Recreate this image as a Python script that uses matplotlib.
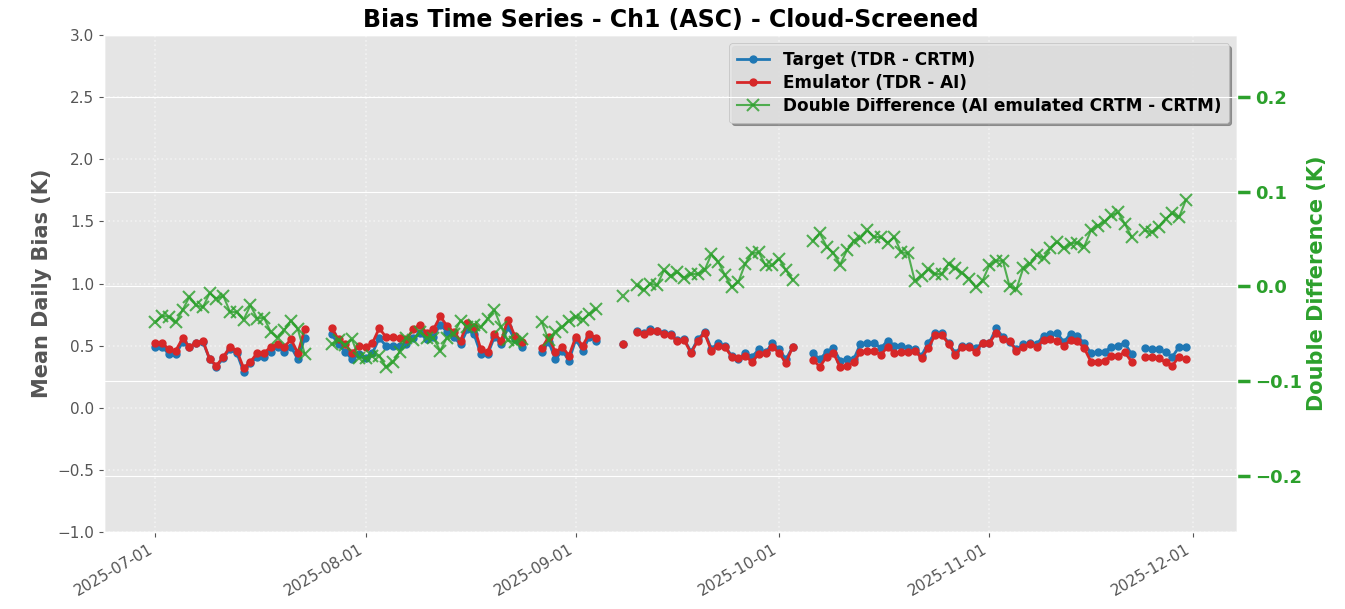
"""Bias time series for Ch1 (ASC), cloud-screened: target vs emulator bias + double difference."""
import numpy as np
import pandas as pd
import matplotlib
matplotlib.use("Agg")
import matplotlib.pyplot as plt
import matplotlib.dates as mdates

plt.style.use("ggplot")

# Each block of consecutive days starts at the given date; nan = missing day.
SEG_STARTS = ["2025-07-01", "2025-07-27", "2025-08-27", "2025-09-08", "2025-09-10", "2025-10-06"]

target = [
    [0.49, 0.49, 0.43, 0.43, 0.53, 0.49, 0.52, 0.53, 0.39, 0.33, 0.40, 0.47, 0.44, 0.29, 0.36,
     0.41, 0.41, 0.45, 0.49, 0.45, 0.49, 0.39, 0.56],
    [0.59, 0.51, 0.45, 0.39, 0.43, 0.40, 0.44, 0.56, 0.50, 0.50, 0.50, 0.51, 0.56, 0.60, 0.55,
     0.57, 0.67, 0.61, 0.57, 0.51, 0.63, 0.59, 0.43, 0.43, 0.57, 0.51, 0.65, 0.55, 0.49],
    [0.45, 0.53, 0.39, 0.46, 0.38, 0.55, 0.46, 0.57, 0.54],
    [0.51],
    [0.615, 0.60, 0.63, 0.62, 0.60, 0.59, 0.545, 0.55, 0.45, 0.55, 0.61, 0.475, 0.52, 0.50,
     0.415, 0.395, 0.44, 0.41, 0.47, 0.445, 0.52, 0.47, 0.39, 0.49],
    [0.44, 0.39, 0.45, 0.48, 0.38, 0.39, 0.39, 0.515, 0.525, 0.525, 0.48, 0.54, 0.50, 0.50,
     0.48, 0.47, 0.42, 0.52, 0.605, 0.60, 0.52, 0.44, 0.50, 0.50, 0.48, 0.52, 0.52, 0.64,
     0.57, 0.53, 0.47, 0.51, 0.52, 0.51, 0.58, 0.595, 0.60, 0.53, 0.595, 0.575, 0.52, 0.44,
     0.445, 0.45, 0.49, 0.50, 0.52, 0.43, np.nan, 0.48, 0.47, 0.47, 0.445, 0.41, 0.49, 0.49],
]

emulator = [
    [0.525, 0.52, 0.47, 0.46, 0.56, 0.49, 0.525, 0.54, 0.39, 0.34, 0.41, 0.49, 0.46, 0.32,
     0.37, 0.44, 0.44, 0.49, 0.515, 0.49, 0.55, 0.44, 0.63],
    [0.64, 0.55, 0.51, 0.44, 0.50, 0.49, 0.52, 0.64, 0.57, 0.57, 0.56, 0.55, 0.63, 0.67, 0.60,
     0.63, 0.735, 0.66, 0.61, 0.54, 0.68, 0.65, 0.47, 0.45, 0.595, 0.54, 0.71, 0.58, 0.53],
    [0.48, 0.57, 0.445, 0.49, 0.42, 0.57, 0.50, 0.595, 0.56],
    [0.515],
    [0.61, 0.595, 0.62, 0.615, 0.595, 0.585, 0.535, 0.545, 0.44, 0.54, 0.60, 0.46, 0.50, 0.49,
     0.41, 0.40, 0.415, 0.37, 0.435, 0.44, 0.49, 0.44, 0.36, 0.49],
    [0.385, 0.33, 0.41, 0.44, 0.33, 0.34, 0.365, 0.45, 0.46, 0.46, 0.425, 0.49, 0.44, 0.45,
     0.45, 0.46, 0.40, 0.48, 0.585, 0.585, 0.515, 0.425, 0.49, 0.49, 0.45, 0.525, 0.52, 0.60,
     0.55, 0.535, 0.46, 0.49, 0.515, 0.49, 0.545, 0.55, 0.54, 0.50, 0.545, 0.535, 0.48, 0.37,
     0.37, 0.38, 0.42, 0.42, 0.445, 0.37, np.nan, 0.41, 0.41, 0.40, 0.365, 0.34, 0.41, 0.39],
]

double_diff = [
    [-0.038, -0.031, -0.032, -0.038, -0.025, -0.011, -0.020, -0.022, -0.007, -0.013, -0.010,
     -0.027, -0.027, -0.035, -0.020, -0.034, -0.033, -0.048, -0.054, -0.046, -0.036, -0.045,
     -0.071],
    [-0.061, -0.057, -0.062, -0.056, -0.075, -0.076, -0.073, -0.073, -0.085, -0.080, -0.069,
     -0.054, -0.057, -0.048, -0.054, -0.054, -0.068, -0.054, -0.050, -0.036, -0.043, -0.041,
     -0.043, -0.034, -0.025, -0.043, -0.057, -0.059, -0.055],
    [-0.038, -0.057, -0.048, -0.043, -0.036, -0.032, -0.035, -0.029, -0.024],
    [-0.010],
    [0.001, -0.004, 0.003, 0.001, 0.017, 0.011, 0.015, 0.009, 0.013, 0.013, 0.017, 0.034,
     0.026, 0.012, -0.001, 0.005, 0.024, 0.035, 0.036, 0.022, 0.022, 0.029, 0.017, 0.007],
    [0.048, 0.056, 0.042, 0.035, 0.023, 0.038, 0.048, 0.051, 0.059, 0.052, 0.052, 0.046,
     0.052, 0.036, 0.035, 0.006, 0.011, 0.018, 0.013, 0.013, 0.024, 0.019, 0.014, 0.008,
     -0.001, 0.006, 0.022, 0.027, 0.027, 0.000, -0.003, 0.019, 0.024, 0.033, 0.030, 0.040,
     0.047, 0.040, 0.045, 0.046, 0.042, 0.059, 0.064, 0.068, 0.075, 0.078, 0.066, 0.052,
     np.nan, 0.059, 0.057, 0.063, 0.071, 0.077, 0.073, 0.091],
]


def to_daily(blocks):
    parts = []
    for start, vals in zip(SEG_STARTS, blocks):
        idx = pd.date_range(start, periods=len(vals), freq="D")
        parts.append(pd.Series(vals, index=idx, dtype=float))
    s = pd.concat(parts)
    full = pd.date_range("2025-07-01", "2025-11-30", freq="D")
    return s.reindex(full)


tgt = to_daily(target)
emu = to_daily(emulator)
dd = to_daily(double_diff)

GREEN = "#2ca02c"

fig, ax1 = plt.subplots(figsize=(13.45, 6.09), dpi=100)
fig.subplots_adjust(left=0.0773, right=0.920, top=0.9425, bottom=0.1264)

ax1.plot(tgt.index, tgt.values, "-o", color="#1f77b4", lw=2, ms=5,
         label="Target (TDR - CRTM)")
ax1.plot(emu.index, emu.values, "-o", color="#d62728", lw=2, ms=5,
         label="Emulator (TDR - AI)")
ax1.set_ylim(-1.0, 3.0)
ax1.set_yticks(np.arange(-1.0, 3.01, 0.5))
ax1.set_ylabel("Mean Daily Bias (K)", fontsize=15, fontweight="bold", color="#555555")
ax1.grid(True, linestyle=":", color="white", alpha=0.5, linewidth=1.2)
ax1.tick_params(axis="both", labelsize=11)

ax2 = ax1.twinx()
ax2.plot(dd.index, dd.values, "-x", color=GREEN, lw=1.5, ms=8, mew=1.5, alpha=0.8,
         label="Double Difference (AI emulated CRTM - CRTM)")
ax2.set_ylim(-0.259, 0.265)
ax2.set_yticks([-0.2, -0.1, 0.0, 0.1, 0.2])
ax2.set_ylabel("Double Difference (K)", fontsize=15, fontweight="bold", color=GREEN)
ax2.tick_params(axis="y", colors=GREEN, labelsize=13, length=9, width=2.5)
for lab in ax2.get_yticklabels():
    lab.set_fontweight("bold")

ax1.xaxis.set_major_locator(mdates.MonthLocator())
ax1.xaxis.set_major_formatter(mdates.DateFormatter("%Y-%m-%d"))
for lab in ax1.get_xticklabels():
    lab.set_rotation(30)
    lab.set_ha("right")

h1, l1 = ax1.get_legend_handles_labels()
h2, l2 = ax2.get_legend_handles_labels()
ax1.legend(h1 + h2, l1 + l2, loc="upper right", shadow=True, framealpha=0.9,
           prop={"weight": "bold", "size": 12.2}, facecolor="#E5E5E5", edgecolor="#bbbbbb",
           labelspacing=0.3, handlelength=1.9, borderpad=0.45)

ax1.set_title("Bias Time Series - Ch1 (ASC) - Cloud-Screened", fontsize=17,
              fontweight="bold", color="black")

fig.savefig("out.png", dpi=100)
